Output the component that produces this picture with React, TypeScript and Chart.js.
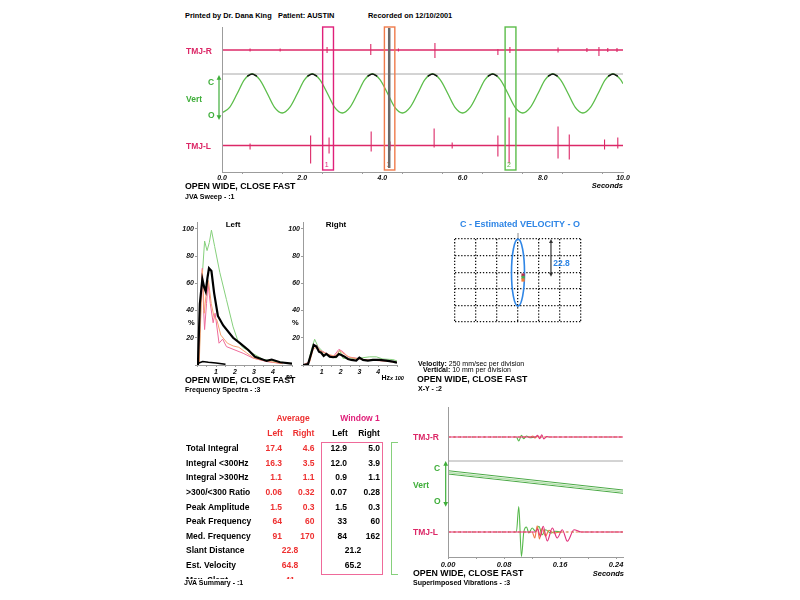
import React, { useEffect, useRef } from 'react';
import { Chart, registerables } from 'chart.js';

Chart.register(...registerables);

const FONT = '"Liberation Sans", Arial, Helvetica, sans-serif';
Chart.defaults.font.family = FONT;

// ---------- colours ----------
const CRIMSON = '#dc2867';
const GREEN = '#5cbd4a';
const GREEN_TEXT = '#3fae3a';
const AXIS_GRAY = '#9c9c9c';
const BLUE = '#2f86e6';
const RED = '#ee3030';
const PINK = '#e0207a';
const ORANGE = '#ef7a4a';
const LIGHT_GREEN = '#86d07c';
const LIGHT_PINK = '#ef6a9a';
const LIGHT_ORANGE = '#f5a070';

// ---------- JVA sweep (seconds) ----------
const vertTimes = [
  0, 0.19, 0.38, 0.56, 0.75, 0.94, 1.13, 1.31,
  1.5, 1.69, 1.88, 2.06, 2.25, 2.44, 2.63, 2.81,
  3.0, 3.19, 3.38, 3.56, 3.75, 3.94, 4.13, 4.31,
  4.5, 4.69, 4.88, 5.06, 5.25, 5.44, 5.63, 5.81,
  6.0, 6.19, 6.38, 6.56, 6.75, 6.94, 7.13, 7.31,
  7.5, 7.69, 7.88, 8.06, 8.25, 8.44, 8.63, 8.81,
  9.0, 9.19, 9.38, 9.56, 9.75, 9.94, 10.0,
];
const vertValues = [
  -1, -0.71, 0, 0.71, 1, 0.71, 0, -0.71,
  -1, -0.71, 0, 0.71, 1, 0.71, 0, -0.71,
  -1, -0.71, 0, 0.71, 1, 0.71, 0, -0.71,
  -1, -0.71, 0, 0.71, 1, 0.71, 0, -0.71,
  -1, -0.71, 0, 0.71, 1, 0.71, 0, -0.71,
  -1, -0.71, 0, 0.71, 1, 0.71, 0, -0.71,
  -1, -0.71, 0, 0.71, 1, 0.71, 0.5,
];
const vertCapTimes = [
  0.63, 0.75, 0.87, 0.88, 2.13, 2.25, 2.37, 2.38, 3.63, 3.75, 3.87, 3.88,
  5.13, 5.25, 5.37, 5.38, 6.63, 6.75, 6.87, 6.88, 8.13, 8.25, 8.37, 8.38,
  9.63, 9.75, 9.87,
];
const vertCapValues = [
  0.88, 1, 0.88, null, 0.88, 1, 0.88, null, 0.88, 1, 0.88, null,
  0.88, 1, 0.88, null, 0.88, 1, 0.88, null, 0.88, 1, 0.88, null,
  0.88, 1, 0.88,
];
const tmjRSpikeTimes = [0.7, 1.45, 2.62, 3.71, 4.4, 5.31, 6.88, 7.18, 8.38, 9.1, 9.4, 9.62, 9.85];
const tmjRSpikeLow = [-1.5, -1.5, -3, -5, -1.5, -8, -5, -3, -2.5, -2, -6, -2, -2];
const tmjRSpikeHigh = [1.5, 1.5, 3, 6, 1.5, 7, 1, 3, 2.5, 2, 3, 2, 2];
const tmjLSpikeTimes = [0.7, 2.21, 2.67, 3.72, 4.19, 5.29, 5.74, 6.88, 7.16, 8.38, 8.66, 9.54, 9.87];
const tmjLSpikeLow = [-4, -18, -8, -6, -5, -2, -3, -11, -18, -13, -14, -4, -3];
const tmjLSpikeHigh = [2, 10, 8, 14, 4, 17, 3, 10, 28, 19, 11, 6, 8];
const windowStarts = [2.51, 4.05, 7.06];
const windowEnds = [2.78, 4.31, 7.33];
const windowLabels = ['1', '3', '2'];
const windowColors = [PINK, ORANGE, GREEN];
const markerTime = 4.17;

const SWEEP_Y_MAX = 145;
const TMJ_R_LEVEL = 122;
const VERT_LEVEL = 78.5;
const VERT_GAIN = 19.5;
const C_LEVEL = 98;
const TMJ_L_LEVEL = 26.5;
const SWEEP_ARROW_TOP = 97;
const SWEEP_ARROW_BOTTOM = 52;

// ---------- Frequency spectra (x = Hz/100, y = %) ----------
const leftBlackX = [0, 0.05, 0.15, 0.28, 0.38, 0.46, 0.55, 0.63, 0.76, 0.9, 1.1, 1.38, 1.9, 2.26, 2.7, 3.05, 3.67, 3.93, 4.37, 5];
const leftBlackY = [0, 1, 45, 63, 57, 54, 64, 71, 69, 53, 36, 29, 20, 16, 11, 6, 3, 4, 2, 1];
const leftBlackLowX = [0.1, 0.3, 0.6, 1.0, 1.5];
const leftBlackLowY = [1.5, 2.5, 2, 1.5, 0.5];
const leftGreenX = [0, 0.1, 0.25, 0.4, 0.53, 0.65, 0.76, 0.93, 1.2, 1.55, 1.9, 2.17, 2.4, 2.87, 3.5, 4.2, 5];
const leftGreenY = [0, 1, 60, 91, 84, 90, 99, 87, 68, 48, 28, 17, 13, 9, 4, 2.5, 1];
const leftPinkX = [0, 0.1, 0.2, 0.28, 0.35, 0.4, 0.5, 0.58, 0.7, 0.85, 0.95, 1.0, 1.16, 1.35, 1.55, 2.0, 2.43, 2.96, 3.67, 4.5];
const leftPinkY = [0, 1, 50, 71, 40, 26, 45, 60, 45, 31, 38, 33, 16, 19, 13.5, 11, 8.6, 5, 2.5, 1];
const leftOrangeX = [0, 0.12, 0.28, 0.38, 0.5, 0.6, 0.75, 0.9, 1.05, 1.25, 1.6, 1.9, 2.2, 2.6, 3.0, 3.6, 4.5];
const leftOrangeY = [0, 2, 70, 38, 55, 62, 45, 35, 33, 22, 16, 14, 13, 9, 5, 3, 1];
const rightBlackX = [0, 0.27, 0.44, 0.57, 0.71, 0.85, 0.97, 1.1, 1.24, 1.42, 1.6, 1.77, 1.91, 2.04, 2.21, 2.39, 2.57, 2.83, 3.0, 3.19, 3.45, 3.72, 4.07, 4.42, 4.78, 5];
const rightBlackY = [0, 0.7, 8.6, 14.7, 13.5, 9.8, 9, 6.6, 8.1, 6.1, 5.7, 6.1, 8.1, 7.4, 6.1, 4.4, 3.7, 3.2, 5.4, 3.7, 3.2, 3.7, 3.7, 3.2, 2.5, 1.7];
const rightGreenX = [0, 0.27, 0.44, 0.62, 0.8, 1.06, 1.42, 1.77, 1.95, 2.12, 2.48, 3.0, 3.54, 3.9, 4.25, 4.78, 5];
const rightGreenY = [0, 0.7, 11, 18.9, 13.5, 9.8, 6, 5.2, 11, 5, 4.4, 5, 6, 6, 4.4, 4, 3];
const rightPinkX = [0, 0.35, 0.53, 0.71, 0.88, 1.24, 1.6, 1.91, 2.12, 2.39, 2.83, 3.36, 4.07, 5];
const rightPinkY = [0, 2.5, 13.5, 14.7, 11, 8.6, 6, 11.5, 9.8, 6, 5, 3.7, 3.2, 2];
const rightOrangeX = [0, 0.35, 0.55, 0.75, 0.95, 1.3, 1.7, 1.95, 2.2, 2.5, 3.0, 3.6, 4.3, 5];
const rightOrangeY = [0, 2, 12, 13, 10, 8, 6.5, 10.5, 8, 5.5, 4.5, 3.5, 3, 2];

// ---------- X-Y (divisions) ----------
const ELLIPSE_CX = 0;
const ELLIPSE_CY = 2.97;
const ELLIPSE_RX = 0.31;
const ELLIPSE_RY = 2.02;
const xyMarkX = [0.24, 0.24, 0.24];
const xyMarkY = [2.83, 2.68, 2.53];
const xyMarkColors = ['#b8304c', '#4cae4c', '#f07a3a'];
const SLANT_X = 1.57;
const SLANT_TOP = 5;
const SLANT_DISTANCE = 22.8; // mm, 10 mm per division

// ---------- JVA summary ----------
const rowLabels = ['Total Integral', 'Integral <300Hz', 'Integral >300Hz', '>300/<300 Ratio', 'Peak Amplitude', 'Peak Frequency', 'Med. Frequency'];
const avgLeft = ['17.4', '16.3', '1.1', '0.06', '1.5', '64', '91'];
const avgRight = ['4.6', '3.5', '1.1', '0.32', '0.3', '60', '170'];
const winLeft = ['12.9', '12.0', '0.9', '0.07', '1.5', '33', '84'];
const winRight = ['5.0', '3.9', '1.1', '0.28', '0.3', '60', '162'];
const singleLabels = ['Slant Distance', 'Est. Velocity', 'Max. Slant'];
const singleAvg = ['22.8', '64.8', '41'];
const singleWin = ['21.2', '65.2', ''];

// ---------- Superimposed vibrations (seconds) ----------
const supRGreenT = [0, 0.0977, 0.1011, 0.105, 0.108, 0.112, 0.117, 0.125, 0.25];
const supRGreenV = [0, 0, -4, 1.7, -1.7, 1, -0.7, 0, 0];
const supRPinkT = [0, 0.125, 0.128, 0.131, 0.134, 0.137, 0.141, 0.145, 0.25];
const supRPinkV = [0, 0, 1.7, -1.7, 2.3, -2, 0.5, 0, 0];
const supROrangeT = [0, 0.118, 0.121, 0.124, 0.127, 0.13, 0.25];
const supROrangeV = [0, 0, 1, -1, 0.5, 0, 0];
const supLGreenT = [0, 0.0977, 0.1011, 0.1049, 0.1083, 0.1121, 0.1155, 0.1202, 0.125, 0.1298, 0.1346, 0.1394, 0.1466, 0.1537, 0.161, 0.25];
const supLGreenV = [0, 0, 25.5, -24.5, 0, 5, -1, 4, 0.7, 5.7, -2.7, 2.3, -1, 0.7, 0, 0];
const supLOrangeT = [0, 0.1202, 0.124, 0.1274, 0.1307, 0.1346, 0.1394, 0.1441, 0.1513, 0.161, 0.25];
const supLOrangeV = [0, 0, -6, 6.3, -7, 4, -4.3, 1.7, -1, 0, 0];
const supLPinkT = [0, 0.125, 0.128, 0.132, 0.136, 0.1418, 0.149, 0.156, 0.1633, 0.1705, 0.18, 0.19, 0.25];
const supLPinkV = [0, 0, 3, -4.3, 5.7, -9, 4, -6, 2.3, -9.3, 2.3, 0, 0];
const supVertT = [0, 0.25];
const supVertA = [86.3, 67];
const supVertB = [84.6, 65.3];
const supVertC = [83, 63.7];

const SUP_Y_MAX = 150;
const SUP_R_LEVEL = 120;
const SUP_C_LEVEL = 96;
const SUP_L_LEVEL = 25;
const SUP_ARROW_TOP = 96;
const SUP_ARROW_BOTTOM = 50.3;

// ---------- helpers ----------
const pts = (xs: number[], ys: (number | null)[], off = 0, gain = 1) =>
  xs.map((x, i) => ({ x, y: ys[i] === null ? null : off + gain * (ys[i] as number) }));
const spikes = (ts: number[], lo: number[], hi: number[], off: number) =>
  ts.map((t, i) => ({ x: t, y: [off + lo[i], off + hi[i]] }));

const baseOptions = (padding: any) => ({
  responsive: false,
  animation: false,
  events: [],
  layout: { padding },
  plugins: { legend: { display: false }, tooltip: { enabled: false } },
  elements: { point: { radius: 0 } },
});

const tickFont = (size: number) => ({ size, style: 'italic', weight: 'bold' });

function vArrow(ctx: CanvasRenderingContext2D, x: number, yTop: number, yBot: number, color: string, head = 3) {
  ctx.save();
  ctx.strokeStyle = color;
  ctx.fillStyle = color;
  ctx.lineWidth = 1.2;
  ctx.beginPath();
  ctx.moveTo(x, yTop + head);
  ctx.lineTo(x, yBot - head);
  ctx.stroke();
  ctx.beginPath();
  ctx.moveTo(x, yTop);
  ctx.lineTo(x - head * 0.8, yTop + head * 1.6);
  ctx.lineTo(x + head * 0.8, yTop + head * 1.6);
  ctx.closePath();
  ctx.fill();
  ctx.beginPath();
  ctx.moveTo(x, yBot);
  ctx.lineTo(x - head * 0.8, yBot - head * 1.6);
  ctx.lineTo(x + head * 0.8, yBot - head * 1.6);
  ctx.closePath();
  ctx.fill();
  ctx.restore();
}

function leftAxis(ctx: CanvasRenderingContext2D, ca: any) {
  ctx.save();
  ctx.strokeStyle = AXIS_GRAY;
  ctx.lineWidth = 1;
  ctx.beginPath();
  ctx.moveTo(ca.left + 0.5, ca.top);
  ctx.lineTo(ca.left + 0.5, ca.bottom);
  ctx.stroke();
  ctx.restore();
}

// ---------- chart builders ----------
function buildSweep() {
  const decor = {
    id: 'sweepDecor',
    afterDatasetsDraw(chart: any) {
      const { ctx, chartArea: ca, scales } = chart;
      const x = scales.x;
      const y = scales.y;
      leftAxis(ctx, ca);
      ctx.save();
      windowStarts.forEach((s, i) => {
        const x1 = x.getPixelForValue(s);
        const x2 = x.getPixelForValue(windowEnds[i]);
        ctx.strokeStyle = windowColors[i];
        ctx.lineWidth = 1.4;
        ctx.strokeRect(x1, ca.top, x2 - x1, ca.bottom - ca.top - 2);
        ctx.fillStyle = windowColors[i];
        ctx.font = `7px ${FONT}`;
        ctx.textBaseline = 'bottom';
        ctx.fillText(windowLabels[i], x1 + 2, ca.bottom - 3);
      });
      const mx = x.getPixelForValue(markerTime);
      ctx.strokeStyle = '#6a6a6a';
      ctx.lineWidth = 2.5;
      ctx.beginPath();
      ctx.moveTo(mx, ca.top + 1);
      ctx.lineTo(mx, ca.bottom - 4);
      ctx.stroke();
      ctx.restore();
      vArrow(ctx, ca.left - 3, y.getPixelForValue(SWEEP_ARROW_TOP), y.getPixelForValue(SWEEP_ARROW_BOTTOM), GREEN_TEXT);
    },
  };
  const spikeStyle = { backgroundColor: CRIMSON, barThickness: 1.1, grouped: false, inflateAmount: 0, borderWidth: 0 };
  return {
    type: 'line',
    data: {
      datasets: [
        { data: pts(vertCapTimes, vertCapValues, VERT_LEVEL, VERT_GAIN), borderColor: '#151515', borderWidth: 1.6, cubicInterpolationMode: 'monotone', spanGaps: false },
        { data: pts(vertTimes, vertValues, VERT_LEVEL, VERT_GAIN), borderColor: GREEN, borderWidth: 1.3, cubicInterpolationMode: 'monotone' },
        { data: pts([0, 10], [0, 0], C_LEVEL), borderColor: '#a8a8a8', borderWidth: 1 },
        { data: pts([0, 10], [0, 0], TMJ_R_LEVEL), borderColor: CRIMSON, borderWidth: 1.7 },
        { data: pts([0, 10], [0, 0], TMJ_L_LEVEL), borderColor: CRIMSON, borderWidth: 1.7 },
        { type: 'bar', data: spikes(tmjRSpikeTimes, tmjRSpikeLow, tmjRSpikeHigh, TMJ_R_LEVEL), ...spikeStyle },
        { type: 'bar', data: spikes(tmjLSpikeTimes, tmjLSpikeLow, tmjLSpikeHigh, TMJ_L_LEVEL), ...spikeStyle },
      ],
    },
    options: {
      ...baseOptions({ left: 42, right: 17, top: 7, bottom: 0 }),
      scales: {
        x: {
          type: 'linear', min: 0, max: 10, offset: false,
          afterFit: (s: any) => { s.height = 13; },
          ticks: { stepSize: 1, autoSkip: false, maxRotation: 0, padding: 0, color: '#111', font: tickFont(7),
            callback: (v: number) => (Math.round(v) % 2 === 0 ? v.toFixed(1) : '') },
          grid: { drawOnChartArea: false, tickLength: 2, tickColor: AXIS_GRAY },
          border: { color: AXIS_GRAY },
        },
        y: { display: false, min: 0, max: SWEEP_Y_MAX },
      },
    },
    plugins: [decor],
  };
}

function buildSpectrum(series: { x: number[]; y: number[]; color: string; width: number }[]) {
  return {
    type: 'line',
    data: {
      datasets: series.map((s) => ({ data: pts(s.x, s.y), borderColor: s.color, borderWidth: s.width, tension: 0 })),
    },
    options: {
      ...baseOptions({ left: 0, right: 3, top: 7, bottom: 0 }),
      scales: {
        x: {
          type: 'linear', min: 0, max: 5,
          afterFit: (s: any) => { s.height = 13; },
          ticks: { stepSize: 0.5, autoSkip: false, maxRotation: 0, padding: 1, color: '#111', font: tickFont(7),
            callback: (v: number) => (Number.isInteger(v) && v >= 1 && v <= 4 ? String(v) : '') },
          grid: { drawOnChartArea: false, tickLength: 2, tickColor: AXIS_GRAY },
          border: { color: AXIS_GRAY },
        },
        y: {
          type: 'linear', min: 0, max: 105,
          afterFit: (s: any) => { s.width = 17; },
          ticks: { stepSize: 20, includeBounds: false, padding: 1, color: '#111', font: tickFont(7),
            callback: (v: number) => (v > 0 && v <= 100 ? String(v) : '') },
          grid: { drawOnChartArea: false, tickLength: 2, tickColor: AXIS_GRAY },
          border: { color: AXIS_GRAY },
        },
      },
    },
  };
}

function buildXY() {
  const decor = {
    id: 'xyDecor',
    beforeDatasetsDraw(chart: any) {
      const { ctx, chartArea: ca, scales } = chart;
      const x = scales.x;
      const y = scales.y;
      const cx = x.getPixelForValue(ELLIPSE_CX);
      const cy = y.getPixelForValue(ELLIPSE_CY);
      const rx = Math.abs(x.getPixelForValue(ELLIPSE_CX + ELLIPSE_RX) - cx);
      const ry = Math.abs(y.getPixelForValue(ELLIPSE_CY + ELLIPSE_RY) - cy);
      ctx.save();
      ctx.strokeStyle = '#8a8a8a';
      ctx.lineWidth = 1;
      ctx.beginPath();
      ctx.moveTo(cx, ca.top - 6);
      ctx.lineTo(cx, ca.top);
      ctx.stroke();
      ctx.strokeStyle = BLUE;
      ctx.lineWidth = 1.6;
      ctx.beginPath();
      ctx.ellipse(cx, cy, rx, ry, 0, 0, Math.PI * 2);
      ctx.stroke();
      ctx.restore();
      const ax = x.getPixelForValue(SLANT_X);
      vArrow(ctx, ax, y.getPixelForValue(SLANT_TOP), y.getPixelForValue(SLANT_TOP - SLANT_DISTANCE / 10), '#333', 2.5);
    },
  };
  const gridOpts = { color: '#111', lineWidth: 1.3, drawTicks: false, borderDash: [1.3, 1.8] };
  const borderOpts = { display: false, dash: [1.3, 1.8] };
  return {
    type: 'scatter',
    data: {
      datasets: [
        { data: pts(xyMarkX, xyMarkY), pointStyle: 'rect', pointRadius: 2.3, pointBackgroundColor: xyMarkColors, pointBorderWidth: 0 },
      ],
    },
    options: {
      ...baseOptions({ left: 15, right: 19, top: 14, bottom: 8 }),
      scales: {
        x: { type: 'linear', min: -3, max: 3, ticks: { display: false, stepSize: 1 }, grid: gridOpts, border: borderOpts },
        y: { type: 'linear', min: 0, max: 5, ticks: { display: false, stepSize: 1 }, grid: gridOpts, border: borderOpts },
      },
    },
    plugins: [decor],
  };
}

function buildSuperimposed() {
  const decor = {
    id: 'supDecor',
    afterDatasetsDraw(chart: any) {
      const { ctx, chartArea: ca, scales } = chart;
      leftAxis(ctx, ca);
      vArrow(ctx, ca.left - 2.3, scales.y.getPixelForValue(SUP_ARROW_TOP), scales.y.getPixelForValue(SUP_ARROW_BOTTOM), GREEN_TEXT);
    },
  };
  const flatDash = (dash: number[]) => ({
    borderDash: (c: any) => (c.p0.parsed.y === c.p1.parsed.y ? dash : undefined),
  });
  return {
    type: 'line',
    data: {
      datasets: [
        { data: pts(supLPinkT, supLPinkV, SUP_L_LEVEL), borderColor: '#e0307a', borderWidth: 1.1, cubicInterpolationMode: 'monotone' },
        { data: pts(supLOrangeT, supLOrangeV, SUP_L_LEVEL), borderColor: '#f07a45', borderWidth: 1.1, cubicInterpolationMode: 'monotone', segment: flatDash([3, 2]) },
        { data: pts(supLGreenT, supLGreenV, SUP_L_LEVEL), borderColor: '#55b84a', borderWidth: 1.1, cubicInterpolationMode: 'monotone', segment: flatDash([1, 5]) },
        { data: pts(supRPinkT, supRPinkV, SUP_R_LEVEL), borderColor: '#e0307a', borderWidth: 1.1, cubicInterpolationMode: 'monotone' },
        { data: pts(supROrangeT, supROrangeV, SUP_R_LEVEL), borderColor: '#f07a45', borderWidth: 1.1, cubicInterpolationMode: 'monotone', segment: flatDash([3, 2]) },
        { data: pts(supRGreenT, supRGreenV, SUP_R_LEVEL), borderColor: '#55b84a', borderWidth: 1.1, cubicInterpolationMode: 'monotone', segment: flatDash([1, 5]) },
        { data: pts(supVertT, supVertA), borderColor: '#4aa845', borderWidth: 1 },
        { data: pts(supVertT, supVertB), borderColor: '#b5e0ad', borderWidth: 1.5 },
        { data: pts(supVertT, supVertC), borderColor: '#4aa845', borderWidth: 1 },
        { data: pts([0, 0.25], [0, 0], SUP_C_LEVEL), borderColor: '#a8a8a8', borderWidth: 1 },
      ],
    },
    options: {
      ...baseOptions({ left: 48, right: 9, top: 7, bottom: 0 }),
      scales: {
        x: {
          type: 'linear', min: 0, max: 0.25,
          afterFit: (s: any) => { s.height = 13; },
          ticks: { stepSize: 0.04, includeBounds: false, autoSkip: false, maxRotation: 0, padding: 1.5, color: '#111', font: tickFont(7.5),
            callback: (v: number, i: number) => (i % 2 === 0 ? v.toFixed(2) : '') },
          grid: { drawOnChartArea: false, tickLength: 2, tickColor: AXIS_GRAY },
          border: { color: AXIS_GRAY },
        },
        y: { display: false, min: 0, max: SUP_Y_MAX },
      },
    },
    plugins: [decor],
  };
}

// ---------- components ----------
function ChartCanvas({ left, top, width, height, build }: { left: number; top: number; width: number; height: number; build: () => any }) {
  const ref = useRef<HTMLCanvasElement>(null);
  useEffect(() => {
    const chart = new Chart(ref.current as HTMLCanvasElement, build());
    return () => chart.destroy();
  }, []);
  return <canvas ref={ref} width={width} height={height} style={{ position: 'absolute', left, top, width, height }} />;
}

type TP = { x: number; y: number; s?: number; c?: string; w?: number; i?: boolean; a?: 'l' | 'c' | 'r'; children: React.ReactNode };
function T({ x, y, s = 8, c = '#000', w = 700, i = false, a = 'l', children }: TP) {
  const st: React.CSSProperties = {
    position: 'absolute', top: y - s * 0.6, fontSize: s, lineHeight: `${s * 1.2}px`, color: c,
    fontWeight: w, fontStyle: i ? 'italic' : 'normal', whiteSpace: 'nowrap',
  };
  if (a === 'l') st.left = x;
  if (a === 'r') st.right = 800 - x;
  if (a === 'c') { st.left = x; st.transform = 'translateX(-50%)'; }
  return <div style={st}>{children}</div>;
}

const ROW_Y0 = 448.3;
const ROW_STEP = 14.6;

export default function App() {
  const spectrumLeft = () => buildSpectrum([
    { x: leftBlackX, y: leftBlackY, color: '#000', width: 2.2 },
    { x: leftBlackLowX, y: leftBlackLowY, color: '#000', width: 1.5 },
    { x: leftOrangeX, y: leftOrangeY, color: LIGHT_ORANGE, width: 1 },
    { x: leftPinkX, y: leftPinkY, color: LIGHT_PINK, width: 1 },
    { x: leftGreenX, y: leftGreenY, color: LIGHT_GREEN, width: 1 },
  ]);
  const spectrumRight = () => buildSpectrum([
    { x: rightBlackX, y: rightBlackY, color: '#000', width: 2.2 },
    { x: rightOrangeX, y: rightOrangeY, color: LIGHT_ORANGE, width: 1 },
    { x: rightPinkX, y: rightPinkY, color: LIGHT_PINK, width: 1 },
    { x: rightGreenX, y: rightGreenY, color: LIGHT_GREEN, width: 1 },
  ]);

  return (
    <div style={{ position: 'relative', width: 800, height: 600, overflow: 'hidden', background: '#fff', fontFamily: FONT }}>
      <style>{'body{margin:0;background:#fff}'}</style>

      {/* header */}
      <T x={185} y={16} s={7.4}>Printed by Dr. Dana King</T>
      <T x={278} y={16} s={7.4}>Patient: AUSTIN</T>
      <T x={368} y={16} s={7.4}>Recorded on 12/10/2001</T>

      {/* JVA sweep */}
      <ChartCanvas left={180} top={20} width={460} height={165} build={buildSweep} />
      <T x={186} y={51} s={8.5} c={CRIMSON}>TMJ-R</T>
      <T x={208} y={81.7} s={8.5} c={GREEN_TEXT}>C</T>
      <T x={186} y={99} s={8.5} c={GREEN_TEXT}>Vert</T>
      <T x={208} y={115} s={8.5} c={GREEN_TEXT}>O</T>
      <T x={186} y={145.7} s={8.5} c={CRIMSON}>TMJ-L</T>
      <T x={185} y={186} s={8.8}>OPEN WIDE, CLOSE FAST</T>
      <T x={185} y={196.7} s={7}>JVA Sweep - :1</T>
      <T x={623} y={185.5} s={7.5} i a="r">Seconds</T>

      {/* Frequency spectra */}
      <ChartCanvas left={180} top={215} width={115} height={163} build={spectrumLeft} />
      <ChartCanvas left={286} top={215} width={114} height={163} build={spectrumRight} />
      <T x={233} y={225} s={8} a="c">Left</T>
      <T x={336} y={225} s={8} a="c">Right</T>
      <T x={188} y={322} s={7.5}>%</T>
      <T x={292} y={322} s={7.5}>%</T>
      <T x={185} y={380.7} s={8.8}>OPEN WIDE, CLOSE FAST</T>
      <T x={286} y={377} s={5.5} i>50</T>
      <T x={185} y={390} s={7}>Frequency Spectra - :3</T>
      <T x={381.5} y={378} s={7}>Hz<span style={{ fontStyle: 'italic', fontSize: 5.5 }}>x 100</span></T>

      {/* X-Y */}
      <ChartCanvas left={440} top={225} width={160} height={105} build={buildXY} />
      <T x={520} y={224} s={9} c={BLUE} a="c">C - Estimated VELOCITY - O</T>
      <T x={561.5} y={263} s={8.5} c={BLUE} a="c">{SLANT_DISTANCE.toFixed(1)}</T>
      <T x={418} y={364} s={7} w={400}><b>Velocity:</b> 250 mm/sec per division</T>
      <T x={423} y={370.5} s={7} w={400}><b>Vertical:</b> 10 mm per division</T>
      <T x={417} y={379.5} s={8.8}>OPEN WIDE, CLOSE FAST</T>
      <T x={418} y={389.5} s={7}>X-Y - :2</T>

      {/* JVA summary table */}
      <T x={293} y={418} s={8.5} c={RED} a="c">Average</T>
      <T x={360} y={418} s={8.5} c={PINK} a="c">Window 1</T>
      <T x={275} y={433} s={8.5} c={RED} a="c">Left</T>
      <T x={303.5} y={433} s={8.5} c={RED} a="c">Right</T>
      <T x={340} y={433} s={8.5} a="c">Left</T>
      <T x={369} y={433} s={8.5} a="c">Right</T>
      <div style={{ position: 'absolute', left: 0, top: 0, width: 800, height: 579, overflow: 'hidden' }}>
        {rowLabels.map((lab, r) => {
          const y = ROW_Y0 + r * ROW_STEP;
          return (
            <React.Fragment key={lab}>
              <T x={186} y={y} s={8.5}>{lab}</T>
              <T x={282} y={y} s={8.5} c={RED} a="r">{avgLeft[r]}</T>
              <T x={314.5} y={y} s={8.5} c={RED} a="r">{avgRight[r]}</T>
              <T x={347} y={y} s={8.5} a="r">{winLeft[r]}</T>
              <T x={380} y={y} s={8.5} a="r">{winRight[r]}</T>
            </React.Fragment>
          );
        })}
        {singleLabels.map((lab, k) => {
          const y = ROW_Y0 + (rowLabels.length + k) * ROW_STEP;
          return (
            <React.Fragment key={lab}>
              <T x={186} y={y} s={8.5}>{lab}</T>
              <T x={290} y={y} s={8.5} c={RED} a="c">{singleAvg[k]}</T>
              <T x={353} y={y} s={8.5} a="c">{singleWin[k]}</T>
            </React.Fragment>
          );
        })}
      </div>
      <div style={{ position: 'absolute', left: 321, top: 442, width: 60, height: 131, border: `1.4px solid ${LIGHT_PINK}` }} />
      <div style={{ position: 'absolute', left: 391, top: 442, width: 6, height: 131, borderLeft: `1.4px solid ${LIGHT_GREEN}`, borderTop: `1.4px solid ${LIGHT_GREEN}`, borderBottom: `1.4px solid ${LIGHT_GREEN}` }} />
      <T x={184} y={583} s={7}>JVA Summary - :1</T>

      {/* Superimposed vibrations */}
      <ChartCanvas left={400} top={400} width={232} height={170} build={buildSuperimposed} />
      <T x={413} y={436.7} s={8.5} c={CRIMSON}>TMJ-R</T>
      <T x={434} y={468} s={8.5} c={GREEN_TEXT}>C</T>
      <T x={413} y={485} s={8.5} c={GREEN_TEXT}>Vert</T>
      <T x={434} y={500.7} s={8.5} c={GREEN_TEXT}>O</T>
      <T x={413} y={532.3} s={8.5} c={CRIMSON}>TMJ-L</T>
      <T x={624} y={573.3} s={7.5} i a="r">Seconds</T>
      <T x={413} y={573.3} s={8.8}>OPEN WIDE, CLOSE FAST</T>
      <T x={413} y={582.7} s={7}>Superimposed Vibrations - :3</T>
    </div>
  );
}
